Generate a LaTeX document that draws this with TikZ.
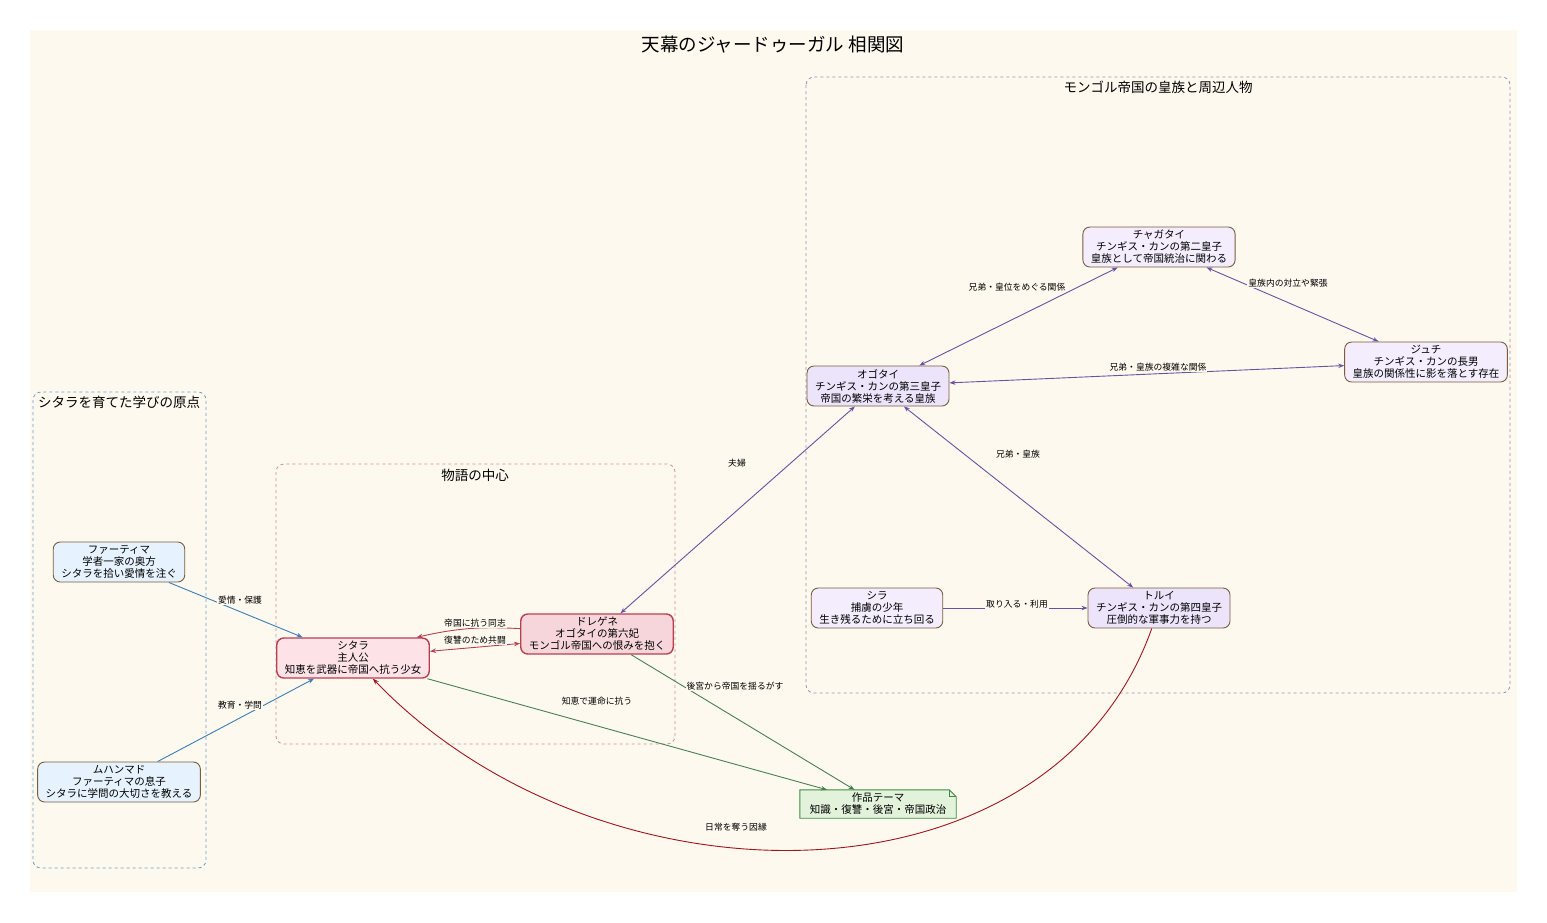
\documentclass[tikz,border=0pt]{standalone}
\usepackage{fontspec}
\setmainfont{Noto Sans CJK JP}
\usetikzlibrary{positioning,arrows.meta,backgrounds}

\definecolor{bgcream}{HTML}{FDF9EF}
\definecolor{nodebrown}{HTML}{7A5C3E}
\definecolor{mongolfill}{HTML}{F3EDFD}
\definecolor{mongoldark}{HTML}{ECE4FB}
\definecolor{bluefill}{HTML}{E6F2FD}
\definecolor{redfill}{HTML}{F6D6DB}
\definecolor{pinkfill}{HTML}{FDE3E8}
\definecolor{redline}{HTML}{B8404E}
\definecolor{themefill}{HTML}{E2F2DB}
\definecolor{themeline}{HTML}{3E8A44}
\definecolor{purplerel}{HTML}{6B52A0}
\definecolor{bluerel}{HTML}{3C7DB5}
\definecolor{greenrel}{HTML}{4A8050}
\definecolor{darkred}{HTML}{A0141C}
\definecolor{mongoldash}{HTML}{9C8FB5}
\definecolor{bluedash}{HTML}{6A9CC8}
\definecolor{pinkdash}{HTML}{D98A95}

\tikzset{
  person/.style={draw=nodebrown, line width=0.9pt, rounded corners=7pt, align=center,
    font=\fontsize{10.5}{12}\selectfont, minimum height=40pt, inner xsep=8pt, inner ysep=2pt},
  mongol/.style={person, fill=mongolfill},
  mongolkey/.style={person, fill=mongoldark},
  teacher/.style={person, fill=bluefill},
  heroine/.style={person, fill=pinkfill, draw=redline, line width=1.4pt},
  empress/.style={person, fill=redfill, draw=redline, line width=1.4pt},
  cluster/.style={dashed, line width=0.8pt, rounded corners=8pt},
  clustertitle/.style={font=\fontsize{13.5}{15}\selectfont},
  lbl/.style={font=\fontsize{8.8}{10}\selectfont, text=black, fill=bgcream, inner sep=1pt},
  rel/.style={line width=0.9pt, >={Stealth[length=6pt,width=4.5pt]}},
}

\begin{document}
\begin{tikzpicture}[x=1pt,y=-1pt]
\useasboundingbox (0,0) rectangle (1547,922);

% background and groups
\begin{scope}[on background layer]
\fill[bgcream] (30,30) rectangle (1517,892);
\end{scope}
\node[font=\fontsize{18.5}{20}\selectfont] (title) at (773,45) {天幕のジャードゥーガル 相関図};

\draw[cluster, mongoldash] (806,77) rectangle (1510,693);
\node[clustertitle] (mongolt) at (1158,87) {モンゴル帝国の皇族と周辺人物};
\draw[cluster, bluedash] (33,392) rectangle (206,868);
\node[clustertitle] (roott) at (119,402) {シタラを育てた学びの原点};
\draw[cluster, pinkdash] (276,464) rectangle (675,744);
\node[clustertitle] (centert) at (475,475) {物語の中心};

% nodes (manual positions)
\node[mongol] (chagatai) at (1159,247) {チャガタイ\\チンギス・カンの第二皇子\\皇族として帝国統治に関わる};
\node[mongolkey] (ogotai) at (878,386) {オゴタイ\\チンギス・カンの第三皇子\\帝国の繁栄を考える皇族};
\node[mongol] (juchi) at (1426,362) {ジュチ\\チンギス・カンの長男\\皇族の関係性に影を落とす存在};
\node[mongol] (sira) at (877,608) {シラ\\捕虜の少年\\生き残るために立ち回る};
\node[mongolkey] (tolui) at (1159,608) {トルイ\\チンギス・カンの第四皇子\\圧倒的な軍事力を持つ};
\node[empress] (dregene) at (597,634) {ドレゲネ\\オゴタイの第六妃\\モンゴル帝国への恨みを抱く};
\node[heroine] (sitara) at (353,658) {シタラ\\主人公\\知恵を武器に帝国へ抗う少女};
\node[teacher] (fatima) at (119,562) {ファーティマ\\学者一家の奥方\\シタラを拾い愛情を注ぐ};
\node[teacher] (muhammad) at (119,782) {ムハンマド\\ファーティマの息子\\シタラに学問の大切さを教える};
\node[align=center, font=\fontsize{10.5}{12}\selectfont, minimum width=156pt, minimum height=28pt, inner sep=1pt] (theme) at (878,804) {作品テーマ\\知識・復讐・後宮・帝国政治};
\begin{scope}[on background layer]
\filldraw[themeline, fill=themefill, line width=0.9pt] (theme.south west) -- (theme.north west)
  -- ([xshift=-7pt]theme.north east) -- ([yshift=-7pt]theme.north east) -- (theme.south east) -- cycle;
\draw[themeline, line width=0.7pt] ([xshift=-7pt]theme.north east) -- ([xshift=-7pt,yshift=-7pt]theme.north east) -- ([yshift=-7pt]theme.north east);
\end{scope}

% edges with labels
\draw[rel, purplerel, <->] (ogotai) -- (chagatai) node[lbl] at (1017,287) {兄弟・皇位をめぐる関係};
\draw[rel, purplerel, <->] (chagatai) -- (juchi) node[lbl] at (1288,283) {皇族内の対立や緊張};
\draw[rel, purplerel, <->] (ogotai) -- (juchi) node[lbl] at (1158,367) {兄弟・皇族の複雑な関係};
\draw[rel, purplerel, <->] (ogotai) -- (tolui) node[lbl] at (1018,454) {兄弟・皇族};
\draw[rel, purplerel, ->] (sira) -- (tolui) node[lbl] at (1017,604) {取り入る・利用};
\draw[rel, purplerel, <->] (ogotai) -- (dregene) node[lbl] at (737,463) {夫婦};

\draw[rel, redline, ->] (dregene.176) to[bend right=8] (sitara.18);
\node[lbl] (lblally) at (475,623) {帝国に抗う同志};
\draw[rel, redline, <->] (sitara.5) -- (dregene.187) node[lbl] at (475,640) {復讐のため共闘};

\draw[rel, bluerel, ->] (fatima) -- (sitara) node[lbl] at (240,600) {愛情・保護};
\draw[rel, bluerel, ->] (muhammad) -- (sitara) node[lbl] at (240,705) {教育・学問};

\draw[rel, greenrel, ->] (sitara) -- (theme) node[lbl] at (597,701) {知恵で運命に抗う};
\draw[rel, greenrel, ->] (dregene) -- (theme) node[lbl] at (735,686) {後宮から帝国を揺るがす};

\draw[rel, darkred, ->] (tolui) .. controls (1050,915) and (600,915) .. (sitara);
\node[lbl] (lblfate) at (736,827) {日常を奪う因縁};

\end{tikzpicture}
\end{document}
